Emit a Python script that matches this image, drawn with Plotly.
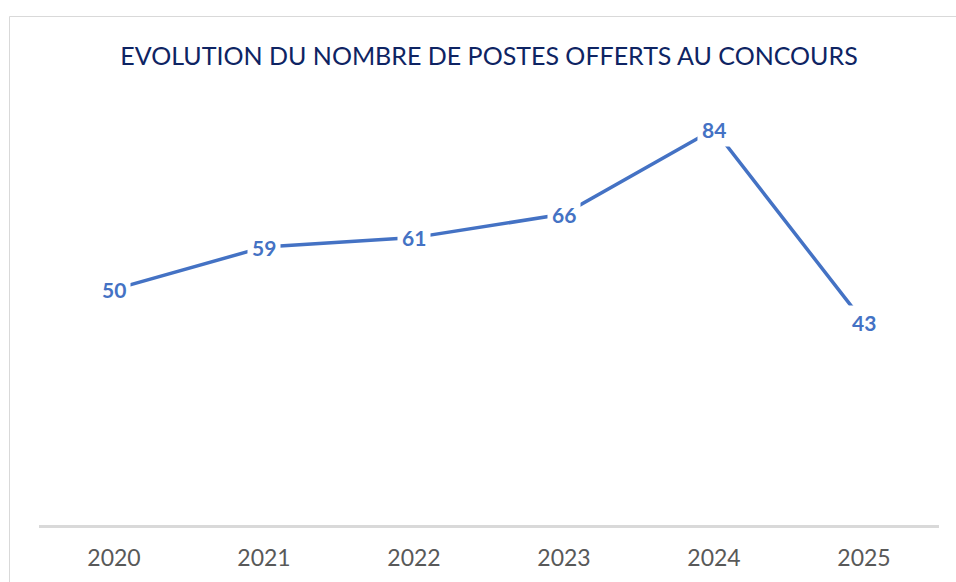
import plotly.graph_objects as go

years = ["2020", "2021", "2022", "2023", "2024", "2025"]
postes = [50, 59, 61, 66, 84, 43]

W, H = 956, 582
ML, MR, MT, MB = 39, 17, 101, 57
PW, PH = W - ML - MR, H - MT - MB

def px_to_paper_x(px):
    return (px - ML) / PW

def px_to_paper_y(py):
    return (H - MB - py) / PH

idx = list(range(len(years)))

fig = go.Figure()
fig.add_trace(go.Scatter(
    x=idx, y=postes, mode="lines",
    line=dict(color="#4472C4", width=3.5),
    hoverinfo="skip", showlegend=False,
))

for i, v in zip(idx, postes):
    fig.add_annotation(
        x=i, y=v, xref="x", yref="y", text=f"<b>{v}</b>",
        showarrow=False, bgcolor="white", borderpad=4,
        font=dict(family="Lato", size=21, color="#4472C4"),
        xanchor="center", yanchor="middle",
    )

fig.add_shape(type="rect", xref="paper", yref="paper",
              x0=px_to_paper_x(9.5), x1=px_to_paper_x(990),
              y0=px_to_paper_y(620), y1=px_to_paper_y(16.5),
              line=dict(color="#D9D9D9", width=1), layer="below")

fig.update_layout(
    width=W, height=H,
    margin=dict(l=ML, r=MR, t=MT, b=MB),
    paper_bgcolor="white", plot_bgcolor="white",
    title=dict(text="EVOLUTION DU NOMBRE DE POSTES OFFERTS AU CONCOURS",
               x=0.5, xref="paper", y=1 - 56 / H, yref="container",
               xanchor="center", yanchor="middle",
               font=dict(family="Lato", size=25, color="#0E2463")),
    xaxis=dict(range=[-0.5, 5.5], showgrid=False, zeroline=False,
               tickmode="array", tickvals=idx, ticktext=years,
               showline=True, linecolor="#D9D9D9", linewidth=2.5,
               ticks="outside", ticklen=11, tickcolor="rgba(0,0,0,0)",
               tickfont=dict(family="Lato", size=23, color="#595959"),
               fixedrange=True),
    yaxis=dict(range=[0, 90], showticklabels=False, showgrid=False,
               zeroline=False, showline=False, ticks="", fixedrange=True),
)

fig.write_html("out.html", config={"displayModeBar": False},
               post_script="document.body.style.margin='0';")
